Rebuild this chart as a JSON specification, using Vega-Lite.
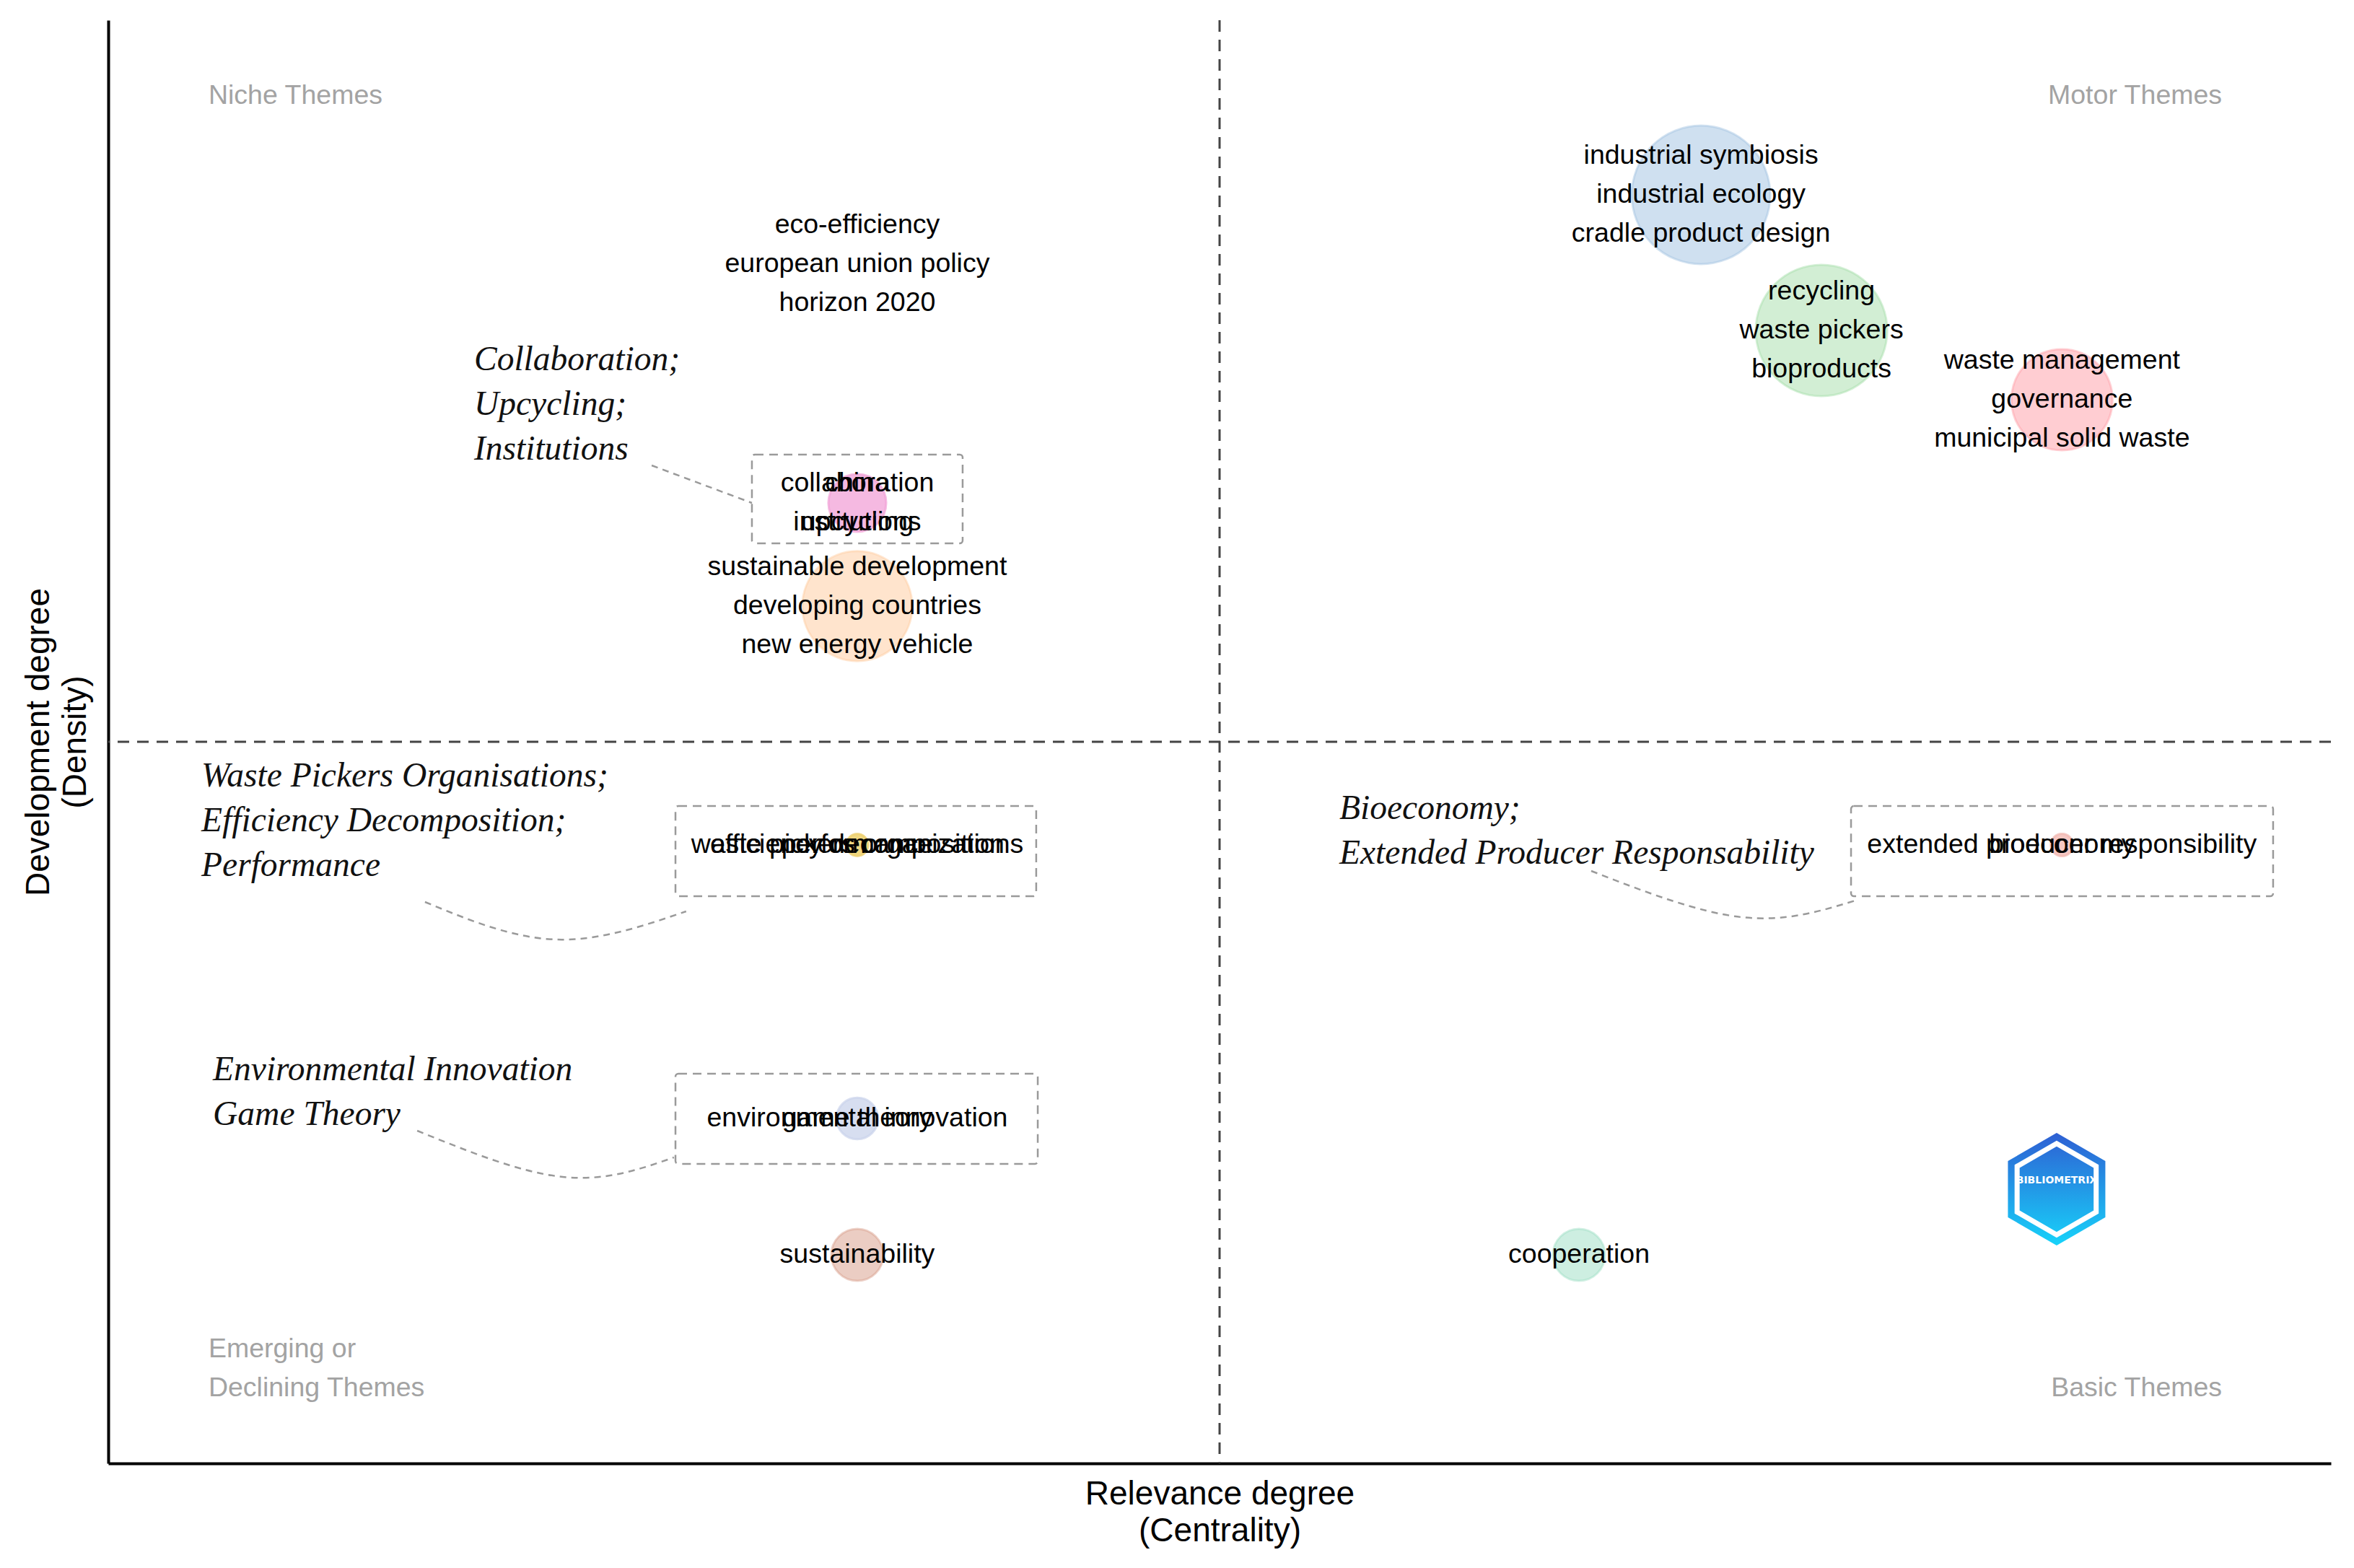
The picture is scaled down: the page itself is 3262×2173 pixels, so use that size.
{
  "$schema": "https://vega.github.io/schema/vega-lite/v6.json",
  "width": 3080,
  "height": 2000,
  "autosize": {"type": "none"},
  "padding": {"left": 150, "top": 28, "right": 32, "bottom": 145},
  "background": "white",
  "config": {
    "view": {"stroke": null},
    "font": "Liberation Sans",
    "axis": {"ticks": false, "labels": false, "grid": false, "domain": true, "domainColor": "black", "domainWidth": 4, "titleFont": "Liberation Sans", "titleFontSize": 46, "titleFontWeight": "normal", "titleColor": "black", "titleLineHeight": 51},
    "axisX": {"titlePadding": 20},
    "axisY": {"titlePadding": 22}
  },
  "datasets": {
    "means": [{"mean_centrality": 0.5, "mean_density": 0.5}],
    "clusters": [
      {"theme": "industrial symbiosis", "label": "industrial symbiosis\nindustrial ecology\ncradle product design", "nwords": 3, "centrality": 0.7166, "density": 0.879, "freq": 92},
      {"theme": "recycling", "label": "recycling\nwaste pickers\nbioproducts", "nwords": 3, "centrality": 0.7708, "density": 0.785, "freq": 83},
      {"theme": "waste management", "label": "waste management\ngovernance\nmunicipal solid waste", "nwords": 3, "centrality": 0.879, "density": 0.737, "freq": 49},
      {"theme": "eco-efficiency", "label": "eco-efficiency\neuropean union policy\nhorizon 2020", "nwords": 3, "centrality": 0.337, "density": 0.831, "freq": 0},
      {"theme": "collaboration", "label": "collaboration\ninstitutions", "nwords": 2, "centrality": 0.337, "density": 0.6655, "freq": 16},
      {"theme": "collaboration", "label": "china\nupcycling", "nwords": 2, "centrality": 0.337, "density": 0.6655, "freq": 16},
      {"theme": "sustainable development", "label": "sustainable development\ndeveloping countries\nnew energy vehicle", "nwords": 3, "centrality": 0.337, "density": 0.594, "freq": 58},
      {"theme": "waste pickers organizations", "label": "waste pickers organizations", "nwords": 1, "centrality": 0.337, "density": 0.4285, "freq": 2.3},
      {"theme": "waste pickers organizations", "label": "efficiency decomposition", "nwords": 1, "centrality": 0.337, "density": 0.4285, "freq": 2.3},
      {"theme": "waste pickers organizations", "label": "performance", "nwords": 1, "centrality": 0.337, "density": 0.4285, "freq": 2.3},
      {"theme": "environmental innovation", "label": "environmental innovation", "nwords": 1, "centrality": 0.337, "density": 0.239, "freq": 8.3},
      {"theme": "environmental innovation", "label": "game theory", "nwords": 1, "centrality": 0.337, "density": 0.239, "freq": 8.3},
      {"theme": "sustainability", "label": "sustainability", "nwords": 1, "centrality": 0.337, "density": 0.1445, "freq": 13},
      {"theme": "cooperation", "label": "cooperation", "nwords": 1, "centrality": 0.6617, "density": 0.1445, "freq": 13},
      {"theme": "extended producer responsibility", "label": "extended producer responsibility", "nwords": 1, "centrality": 0.879, "density": 0.4285, "freq": 2.4},
      {"theme": "extended producer responsibility", "label": "bioeconomy", "nwords": 1, "centrality": 0.879, "density": 0.4285, "freq": 2.4}
    ],
    "boxes": [
      {"box": "b1", "x1": 0.2896, "x2": 0.3844, "y1": 0.6375, "y2": 0.699},
      {"box": "b2", "x1": 0.2552, "x2": 0.4175, "y1": 0.393, "y2": 0.4555},
      {"box": "b3", "x1": 0.2552, "x2": 0.4182, "y1": 0.2075, "y2": 0.27},
      {"box": "b4", "x1": 0.7841, "x2": 0.974, "y1": 0.393, "y2": 0.4555}
    ],
    "connectors": [
      {"id": "c1", "step": 1, "x": 0.2445, "y": 0.6915},
      {"id": "c1", "step": 2, "x": 0.2896, "y": 0.6655},
      {"id": "c2", "step": 1, "x": 0.1425, "y": 0.389},
      {"id": "c2", "step": 2, "x": 0.2013, "y": 0.363},
      {"id": "c2", "step": 3, "x": 0.26, "y": 0.3825},
      {"id": "c3", "step": 1, "x": 0.139, "y": 0.2305},
      {"id": "c3", "step": 2, "x": 0.2045, "y": 0.1985},
      {"id": "c3", "step": 3, "x": 0.2545, "y": 0.212},
      {"id": "c4", "step": 1, "x": 0.6672, "y": 0.4105},
      {"id": "c4", "step": 2, "x": 0.7347, "y": 0.3785},
      {"id": "c4", "step": 3, "x": 0.786, "y": 0.39}
    ],
    "notes": [
      {"note": "Collaboration;\nUpcycling;\nInstitutions", "x": 0.1646, "y": 0.7645},
      {"note": "Waste Pickers Organisations;\nEfficiency Decomposition;\nPerformance", "x": 0.0419, "y": 0.476},
      {"note": "Environmental Innovation\nGame Theory", "x": 0.0471, "y": 0.2725},
      {"note": "Bioeconomy;\nExtended Producer Responsability", "x": 0.5539, "y": 0.4535}
    ],
    "quadrants": [
      {"q": "Niche Themes", "x": 0.0451, "y": 0.9475, "side": "left"},
      {"q": "Motor Themes", "x": 0.951, "y": 0.9475, "side": "right"},
      {"q": "Emerging or\nDeclining Themes", "x": 0.0451, "y": 0.079, "side": "left"},
      {"q": "Basic Themes", "x": 0.951, "y": 0.052, "side": "right"}
    ],
    "logo": [
      {"name": "BIBLIOMETRIX", "x": 0.8766, "y": 0.19}
    ]
  },
  "layer": [
    {
      "data": {"name": "means"},
      "mark": {"type": "rule", "color": "#444444", "strokeWidth": 3, "strokeDash": [16, 11]},
      "encoding": {"x": {"field": "mean_centrality", "type": "quantitative", "title": ["Relevance degree", "(Centrality)"], "scale": {"domain": [0, 1], "nice": false, "zero": false}}}
    },
    {
      "data": {"name": "means"},
      "mark": {"type": "rule", "color": "#444444", "strokeWidth": 3, "strokeDash": [16, 11]},
      "encoding": {"y": {"field": "mean_density", "type": "quantitative", "title": ["Development degree", "(Density)"], "scale": {"domain": [0, 1], "nice": false, "zero": false}}}
    },
    {
      "data": {"name": "boxes"},
      "mark": {"type": "rect", "fill": null, "fillOpacity": 0, "stroke": "#9a9a9a", "strokeWidth": 2.5, "strokeDash": [12, 8], "cornerRadius": 4},
      "encoding": {
        "x": {"field": "x1", "type": "quantitative", "title": ["Relevance degree", "(Centrality)"]},
        "x2": {"field": "x2"},
        "y": {"field": "y1", "type": "quantitative", "title": ["Development degree", "(Density)"]},
        "y2": {"field": "y2"}
      }
    },
    {
      "data": {"name": "connectors"},
      "mark": {"type": "line", "color": "#9a9a9a", "strokeWidth": 2.5, "strokeDash": [9, 7], "interpolate": "natural"},
      "encoding": {
        "x": {"field": "x", "type": "quantitative", "title": ["Relevance degree", "(Centrality)"]},
        "y": {"field": "y", "type": "quantitative", "title": ["Development degree", "(Density)"]},
        "detail": {"field": "id"},
        "order": {"field": "step"}
      }
    },
    {
      "data": {"name": "clusters"},
      "mark": {"type": "point", "shape": "circle", "filled": true, "fillOpacity": 0.5, "strokeOpacity": 0.45, "strokeWidth": 3},
      "encoding": {
        "x": {"field": "centrality", "type": "quantitative", "title": ["Relevance degree", "(Centrality)"], "scale": {"domain": [0, 1], "nice": false, "zero": false}},
        "y": {"field": "density", "type": "quantitative", "title": ["Development degree", "(Density)"], "scale": {"domain": [0, 1], "nice": false, "zero": false}},
        "size": {"field": "freq", "type": "quantitative", "scale": {"type": "linear", "domain": [0, 100], "range": [0, 40000]}, "legend": null},
        "fill": {"field": "theme", "type": "nominal", "legend": null, "scale": {
          "domain": ["industrial symbiosis", "recycling", "waste management", "eco-efficiency", "collaboration", "sustainable development", "waste pickers organizations", "environmental innovation", "sustainability", "cooperation", "extended producer responsibility"],
          "range": ["#9FC1E1", "#A5DDA9", "#FF9BA5", "#FFFFFF", "#F2A2D7", "#FFC99B", "#EDD170", "#CAD3EB", "#D79B87", "#9BDDC3", "#F2B6AF"]}},
        "stroke": {"field": "theme", "type": "nominal", "legend": null, "scale": {
          "domain": ["industrial symbiosis", "recycling", "waste management", "eco-efficiency", "collaboration", "sustainable development", "waste pickers organizations", "environmental innovation", "sustainability", "cooperation", "extended producer responsibility"],
          "range": ["#9FC1E1", "#A5DDA9", "#FF9BA5", "#FFFFFF", "#F2A2D7", "#FFC99B", "#EDD170", "#CAD3EB", "#D79B87", "#9BDDC3", "#F2B6AF"]}}
      }
    },
    {
      "data": {"name": "clusters"},
      "transform": [{"filter": "datum.nwords === 3"}],
      "mark": {"type": "text", "font": "Liberation Sans", "fontSize": 37.5, "lineHeight": 54, "lineBreak": "\n", "align": "center", "baseline": "middle", "color": "black", "dy": -54},
      "encoding": {
        "x": {"field": "centrality", "type": "quantitative", "title": ["Relevance degree", "(Centrality)"]},
        "y": {"field": "density", "type": "quantitative", "title": ["Development degree", "(Density)"]},
        "text": {"field": "label"}
      }
    },
    {
      "data": {"name": "clusters"},
      "transform": [{"filter": "datum.nwords === 2"}],
      "mark": {"type": "text", "font": "Liberation Sans", "fontSize": 37.5, "lineHeight": 54, "lineBreak": "\n", "align": "center", "baseline": "middle", "color": "black", "dy": -27},
      "encoding": {
        "x": {"field": "centrality", "type": "quantitative", "title": ["Relevance degree", "(Centrality)"]},
        "y": {"field": "density", "type": "quantitative", "title": ["Development degree", "(Density)"]},
        "text": {"field": "label"}
      }
    },
    {
      "data": {"name": "clusters"},
      "transform": [{"filter": "datum.nwords === 1"}],
      "mark": {"type": "text", "font": "Liberation Sans", "fontSize": 37.5, "align": "center", "baseline": "middle", "color": "black"},
      "encoding": {
        "x": {"field": "centrality", "type": "quantitative", "title": ["Relevance degree", "(Centrality)"]},
        "y": {"field": "density", "type": "quantitative", "title": ["Development degree", "(Density)"]},
        "text": {"field": "label"}
      }
    },
    {
      "data": {"name": "notes"},
      "mark": {"type": "text", "font": "Liberation Serif", "fontStyle": "italic", "fontSize": 47.5, "lineHeight": 62, "lineBreak": "\n", "align": "left", "baseline": "middle", "color": "#111111"},
      "encoding": {
        "x": {"field": "x", "type": "quantitative", "title": ["Relevance degree", "(Centrality)"]},
        "y": {"field": "y", "type": "quantitative", "title": ["Development degree", "(Density)"]},
        "text": {"field": "note"}
      }
    },
    {
      "data": {"name": "quadrants"},
      "transform": [{"filter": "datum.side === 'left'"}],
      "mark": {"type": "text", "font": "Liberation Sans", "fontSize": 37.5, "lineHeight": 54, "lineBreak": "\n", "align": "left", "baseline": "middle", "color": "#a3a3a3"},
      "encoding": {
        "x": {"field": "x", "type": "quantitative", "title": ["Relevance degree", "(Centrality)"]},
        "y": {"field": "y", "type": "quantitative", "title": ["Development degree", "(Density)"]},
        "text": {"field": "q"}
      }
    },
    {
      "data": {"name": "quadrants"},
      "transform": [{"filter": "datum.side === 'right'"}],
      "mark": {"type": "text", "font": "Liberation Sans", "fontSize": 37.5, "lineHeight": 54, "lineBreak": "\n", "align": "right", "baseline": "middle", "color": "#a3a3a3"},
      "encoding": {
        "x": {"field": "x", "type": "quantitative", "title": ["Relevance degree", "(Centrality)"]},
        "y": {"field": "y", "type": "quantitative", "title": ["Development degree", "(Density)"]},
        "text": {"field": "q"}
      }
    },
    {
      "data": {"name": "logo"},
      "mark": {"type": "point", "shape": "M0,-1L0.866,-0.5L0.866,0.5L0,1L-0.866,0.5L-0.866,-0.5Z", "size": 24300, "filled": true, "opacity": 1,
        "fill": {"gradient": "linear", "x1": 0, "y1": 0, "x2": 0, "y2": 1, "stops": [{"offset": 0, "color": "#2E5FD3"}, {"offset": 1, "color": "#17D3FA"}]}},
      "encoding": {
        "x": {"field": "x", "type": "quantitative", "title": ["Relevance degree", "(Centrality)"]},
        "y": {"field": "y", "type": "quantitative", "title": ["Development degree", "(Density)"]}
      }
    },
    {
      "data": {"name": "logo"},
      "mark": {"type": "point", "shape": "M0,-1L0.866,-0.5L0.866,0.5L0,1L-0.866,0.5L-0.866,-0.5Z", "size": 16000, "filled": false, "stroke": "white", "strokeWidth": 7, "opacity": 1},
      "encoding": {
        "x": {"field": "x", "type": "quantitative", "title": ["Relevance degree", "(Centrality)"]},
        "y": {"field": "y", "type": "quantitative", "title": ["Development degree", "(Density)"]}
      }
    },
    {
      "data": {"name": "logo"},
      "mark": {"type": "text", "font": "DejaVu Sans", "fontWeight": "bold", "fontSize": 14, "color": "white", "align": "center", "baseline": "middle", "dy": -12},
      "encoding": {
        "x": {"field": "x", "type": "quantitative", "title": ["Relevance degree", "(Centrality)"]},
        "y": {"field": "y", "type": "quantitative", "title": ["Development degree", "(Density)"]},
        "text": {"field": "name"}
      }
    }
  ]
}
